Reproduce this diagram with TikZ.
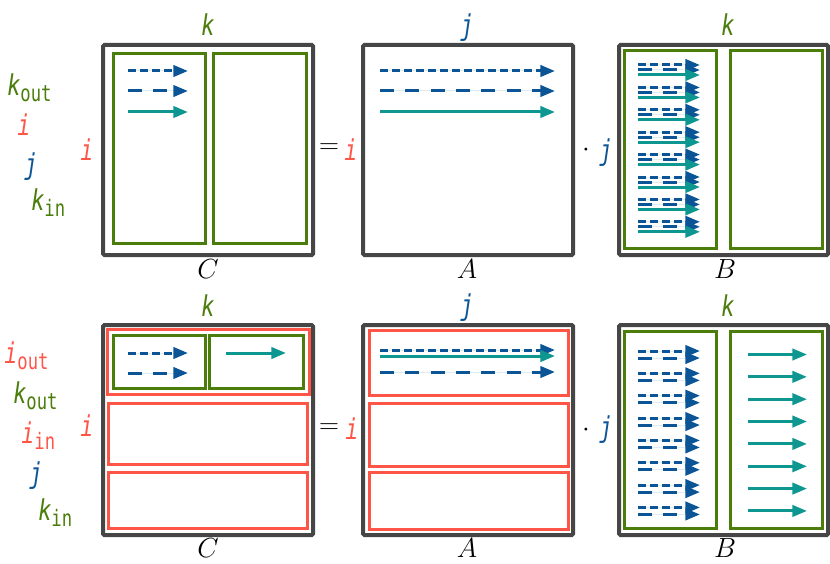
\documentclass[tikz,border=0pt]{standalone}
\usepackage{fontspec}
\usetikzlibrary{arrows.meta}
\newfontfamily\lbl[FakeStretch=0.76]{DejaVu Sans Mono}
\definecolor{cgray}{HTML}{464646}
\definecolor{cgreen}{HTML}{4A7D0A}
\definecolor{cred}{HTML}{FF5547}
\definecolor{cblue}{HTML}{0B5596}
\definecolor{cteal}{HTML}{0E9690}
\newcommand\lv[1]{{\lbl\fontsize{21.5pt}{24pt}\selectfont\itshape #1}}
\newcommand\lsub[1]{\raisebox{-4.5pt}{\lbl\fontsize{17pt}{19pt}\selectfont\upshape #1}}
\newcommand\mth[1]{{\fontsize{20.74pt}{24pt}\selectfont$#1$}}
\tikzset{
  mbox/.style={draw=cgray, line width=3pt, rounded corners=1pt},
  gbox/.style={draw=cgreen, line width=2.25pt},
  rbox/.style={draw=cred, line width=2.25pt},
  arr/.style={line width=2.25pt, -{Triangle[length=11pt,width=8.5pt]}},
  sdash/.style={arr, draw=cblue, fill=cblue, dash pattern=on 6pt off 3pt},
  ldash/.style={arr, draw=cblue, fill=cblue, dash pattern=on 10.5pt off 8.5pt},
  tline/.style={arr, draw=cteal, fill=cteal},
  lab/.style={inner sep=0pt, anchor=base},
  labw/.style={inner sep=0pt, anchor=base west},
}
\begin{document}
\begin{tikzpicture}[x=0.75pt, y=-0.75pt]
\useasboundingbox (0,0) rectangle (830,563);
% ================= TOP ROW =================
\node[labw, cgreen] (tko) at (7,96) {\lv{k}\lsub{out}};
\node[lab, cred] (ti) at (24,136) {\lv{i}};
\node[lab, cblue] (tj) at (31,174) {\lv{j}};
\node[labw, cgreen] (tki) at (31,210) {\lv{k}\lsub{in}};
% C
\draw[mbox] (103,45) rectangle (313,255);
\draw[gbox] (113,54) rectangle (205,243);
\draw[gbox] (213,54) rectangle (306,243);
\draw[sdash] (128,71) -- (188,71);
\draw[ldash] (128,91) -- (188,91);
\draw[tline] (128,112) -- (188,112);
\node[lab, cgreen] (tCk) at (208,36) {\lv{k}};
\node[lab, cred] (tCi) at (87,160) {\lv{i}};
\node[lab] (tC) at (208,278) {\mth{C}};
% = i
\node[inner sep=0pt] (teq) at (329,149) {\mth{=}};
\node[lab, cred] (tAi) at (351,160) {\lv{i}};
% A
\draw[mbox] (363,45) rectangle (573,255);
\draw[sdash] (380,71) -- (555,71);
\draw[ldash] (380,91) -- (555,91);
\draw[tline] (380,112) -- (555,112);
\node[lab, cblue] (tAj) at (467,36) {\lv{j}};
\node[lab] (tA) at (467,278) {\mth{A}};
% . j
\node[inner sep=0pt] (tdot) at (586,150) {\mth{\cdot}};
\node[lab, cblue] (tBj) at (606,160) {\lv{j}};
% B
\draw[mbox] (619,45) rectangle (828,255);
\draw[gbox] (624,51) rectangle (716,248);
\draw[gbox] (730,51) rectangle (822,248);
\foreach \n in {0,...,7}{
  \pgfmathsetmacro\c{70+22.4*\n}
  \draw[sdash] (638,\c-5) -- (700,\c-5);
  \draw[ldash] (638,\c) -- (700,\c);
  \draw[tline] (638,\c+5) -- (700,\c+5);
}
\node[lab, cgreen] (tBk) at (728,36) {\lv{k}};
\node[lab] (tB) at (725,278) {\mth{B}};
% ================= BOTTOM ROW =================
\node[labw, cred] (bio) at (4,363) {\lv{i}\lsub{out}};
\node[labw, cgreen] (bko) at (13,403) {\lv{k}\lsub{out}};
\node[labw, cred] (bii) at (21,443) {\lv{i}\lsub{in}};
\node[lab, cblue] (bj) at (36,483) {\lv{j}};
\node[labw, cgreen] (bki) at (38,520) {\lv{k}\lsub{in}};
% C
\draw[mbox] (103,325) rectangle (313,535);
\draw[rbox] (107,329) rectangle (309,394);
\draw[rbox] (108,403) rectangle (307,464);
\draw[rbox] (108,472) rectangle (307,528);
\draw[gbox] (113,335) rectangle (205,388);
\draw[gbox] (209,335) rectangle (303,388);
\draw[sdash] (128,353) -- (188,353);
\draw[ldash] (128,373) -- (188,373);
\draw[tline] (226,353) -- (286,353);
\node[lab, cgreen] (bCk) at (208,316) {\lv{k}};
\node[lab, cred] (bCi) at (87,436) {\lv{i}};
\node[lab] (bC) at (208,557) {\mth{C}};
% = i
\node[inner sep=0pt] (beq) at (329,429) {\mth{=}};
\node[lab, cred] (bAi) at (352,439) {\lv{i}};
% A
\draw[mbox] (363,325) rectangle (573,535);
\draw[rbox] (369,330) rectangle (568,395);
\draw[rbox] (369,403) rectangle (568,466);
\draw[rbox] (369,472) rectangle (568,529);
\draw[sdash] (380,350) -- (555,350);
\draw[tline] (380,356) -- (555,356);
\draw[ldash] (380,372) -- (555,372);
\node[lab, cblue] (bAj) at (467,315) {\lv{j}};
\node[lab] (bA) at (467,557) {\mth{A}};
% . j
\node[inner sep=0pt] (bdot) at (586,430) {\mth{\cdot}};
\node[lab, cblue] (bBj) at (606,437) {\lv{j}};
% B
\draw[mbox] (619,325) rectangle (828,535);
\draw[gbox] (624,331) rectangle (716,528);
\draw[gbox] (730,331) rectangle (822,528);
\foreach \n in {0,...,7}{
  \pgfmathsetmacro\c{354.5+22.35*\n}
  \draw[sdash] (638,\c-3.5) -- (700,\c-3.5);
  \draw[ldash] (638,\c+3.5) -- (700,\c+3.5);
  \draw[tline] (748,\c) -- (807,\c);
}
\node[lab, cgreen] (bBk) at (728,316) {\lv{k}};
\node[lab] (bB) at (725,557) {\mth{B}};
\end{tikzpicture}
\end{document}
